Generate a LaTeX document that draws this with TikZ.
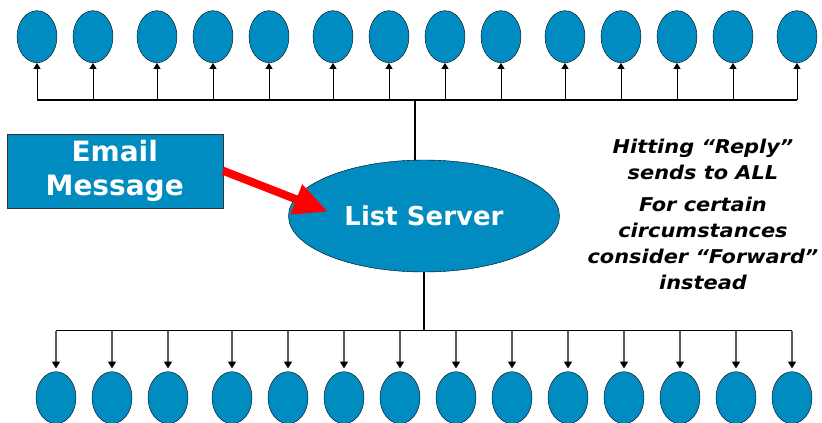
\documentclass[tikz,border=0pt]{standalone}
\usepackage{fontspec}
\setmainfont{DejaVu Sans}
\newfontfamily\notefont{DejaVu Sans}[FakeStretch=1.1]
\usetikzlibrary{shapes.geometric,arrows.meta}
\definecolor{listblue}{RGB}{0,140,192}
\definecolor{mailred}{RGB}{255,0,0}
\begin{document}
\begin{tikzpicture}[x=1pt,y=-1pt,
    member/.style={ellipse,draw=black,thin,fill=listblue,minimum width=40pt,minimum height=52pt,inner sep=0pt},
    upline/.style={black,line width=1pt,-{Triangle[length=6pt,width=7pt]}},
    downline/.style={black!65,line width=1.4pt,-{Triangle[length=7pt,width=8pt,fill=black,color=black]}}]
    \useasboundingbox (0,0) rectangle (822,423);

    % Members above and below
    \foreach \x [count=\i] in {37,93,157,213,269,333,389,445,501,565,621,677,733,797}
        \node[member] (t\i) at (\x,36.7) {};
    \foreach \x [count=\i] in {56,112,168,232,288,344,400,456,512,568,624,680,736,792}
        \node[member] (b\i) at (\x,397.7) {};

    % List server and message
    \node[ellipse,draw=black,thin,fill=listblue,minimum width=271pt,minimum height=112pt,inner sep=0pt,
          text=white,font=\fontsize{26}{30}\selectfont\bfseries] (server) at (424,216) {List Server};
    \node[draw=black!80,thin,fill=listblue,minimum width=216pt,minimum height=74pt,inner sep=0pt,
          align=center,text=white,font=\fontsize{28}{34}\selectfont\bfseries] (mail) at (114.7,170.7) {Email\\Message};
    \coordinate (mailtip) at (328,211.7);
    \draw[mailred,line width=8pt,-{Triangle[length=34pt,width=30pt]}] (mail.east) -- (mailtip);

    % Top bus
    \coordinate (topbus) at (415,100);
    \draw[line width=1.2pt] (t1.south |- topbus) -- (t14.south |- topbus);
    \draw[line width=2pt] (topbus) -- (topbus |- server.north);
    \foreach \i in {1,...,14}
        \draw[upline] (t\i.south |- topbus) -- (t\i.south);

    % Bottom bus
    \coordinate (botbus) at (424,330.7);
    \draw[line width=2pt] (server.south) -- (botbus);
    \draw[line width=1.2pt] (b1.north |- botbus) -- (b14.north |- botbus);
    \foreach \i in {1,...,14}
        \draw[downline,shorten >=3pt] (b\i.north |- botbus) -- (b\i.north);

    % Note
    \node[anchor=north,inner sep=0pt,align=center,font=\notefont\fontsize{19}{26}\selectfont\bfseries\itshape] (note) at (703,138.5)
        {Hitting “Reply”\\sends to ALL\\[6.7pt]For certain\\circumstances\\consider “Forward”\\instead};
\end{tikzpicture}
\end{document}
